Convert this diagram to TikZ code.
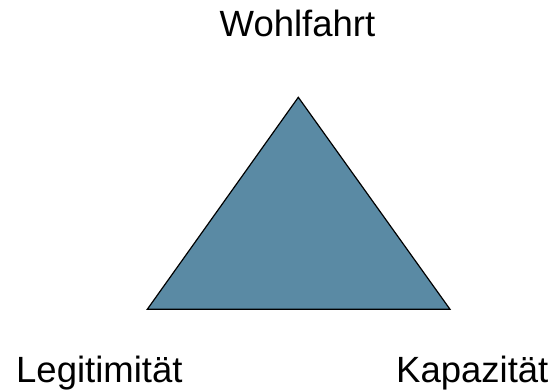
\documentclass[tikz,border=0pt]{standalone}
\usepackage{fontspec}
\setmainfont{Liberation Sans}
\definecolor{trifill}{HTML}{5A8AA4}
\begin{document}
\begin{tikzpicture}[x=1pt,y=1pt,
  lbl/.style={inner sep=0pt,font=\fontsize{36.5}{40}\selectfont},
  tri/.style={fill=trifill,draw=black,line width=1.2pt,line join=miter}]
\useasboundingbox (0,0) rectangle (554,389);
\coordinate (top) at (298.3,291.7);
\coordinate (bl) at (147.3,79.7);
\coordinate (br) at (450,79.7);
\draw[tri] (top) -- (br) -- (bl) -- cycle;
\node[lbl,anchor=base] (w) at (297.5,352) {Wohlfahrt};
\node[lbl,anchor=base west] (l) at (16,7) {Legitimität};
\node[lbl,anchor=base west] (k) at (396,7) {Kapazität};
\end{tikzpicture}
\end{document}
